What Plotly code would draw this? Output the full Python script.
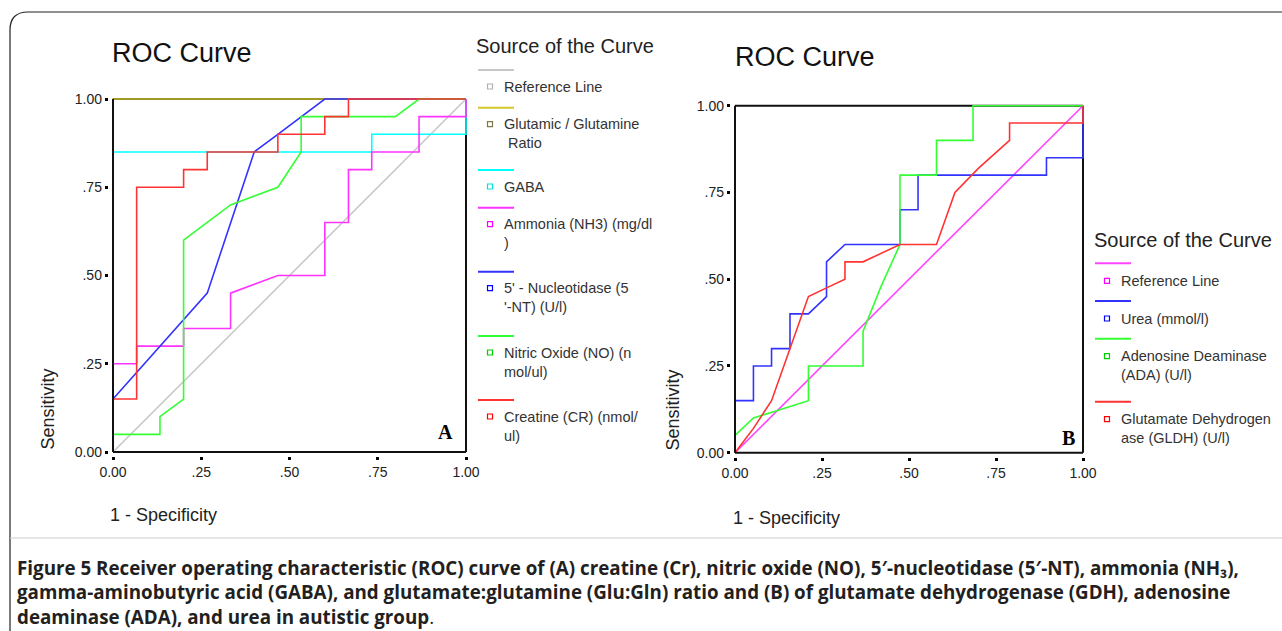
import plotly.graph_objects as go

W, H = 1282, 631

# ---------------- data: panel A ----------------
ref_fpr = [0, 1]
ref_tpr = [0, 1]
glu_fpr = [0, 0, 1]
glu_tpr = [0, 1, 1]
gaba_fpr = [0, 0, 0.733, 0.733, 1, 1]
gaba_tpr = [0, 0.85, 0.85, 0.90, 0.90, 1]
nh3_fpr = [0, 0, 0.067, 0.067, 0.20, 0.20, 0.333, 0.333, 0.467, 0.60, 0.60, 0.667, 0.667, 0.733, 0.733, 0.867, 0.867, 1, 1]
nh3_tpr = [0, 0.25, 0.25, 0.30, 0.30, 0.35, 0.35, 0.45, 0.50, 0.50, 0.65, 0.65, 0.80, 0.80, 0.85, 0.85, 0.95, 0.95, 1]
nt_fpr = [0, 0, 0.267, 0.40, 0.467, 0.60, 1]
nt_tpr = [0, 0.15, 0.45, 0.85, 0.90, 1, 1]
no_fpr = [0, 0, 0.133, 0.133, 0.20, 0.20, 0.333, 0.467, 0.533, 0.533, 0.80, 0.867, 1]
no_tpr = [0, 0.05, 0.05, 0.10, 0.15, 0.60, 0.70, 0.75, 0.85, 0.95, 0.95, 1, 1]
cr_fpr = [0, 0, 0.067, 0.067, 0.20, 0.20, 0.267, 0.267, 0.467, 0.467, 0.60, 0.60, 0.667, 0.667, 1]
cr_tpr = [0, 0.15, 0.15, 0.75, 0.75, 0.80, 0.80, 0.85, 0.85, 0.90, 0.90, 0.95, 0.95, 1, 1]

# ---------------- data: panel B ----------------
refb_fpr = [0, 1]
refb_tpr = [0, 1]
urea_fpr = [0, 0, 0.053, 0.053, 0.105, 0.105, 0.158, 0.158, 0.211, 0.263, 0.263, 0.316, 0.474, 0.474, 0.526, 0.526, 0.895, 0.895, 1, 1]
urea_tpr = [0, 0.15, 0.15, 0.25, 0.25, 0.30, 0.30, 0.40, 0.40, 0.45, 0.55, 0.60, 0.60, 0.70, 0.70, 0.80, 0.80, 0.85, 0.85, 1]
ada_fpr = [0, 0, 0.053, 0.211, 0.211, 0.368, 0.368, 0.42, 0.474, 0.474, 0.579, 0.579, 0.684, 0.684, 1]
ada_tpr = [0, 0.05, 0.10, 0.15, 0.25, 0.25, 0.35, 0.48, 0.60, 0.80, 0.80, 0.90, 0.90, 1, 1]
gldh_fpr = [0, 0.053, 0.105, 0.158, 0.211, 0.263, 0.316, 0.316, 0.368, 0.474, 0.579, 0.632, 0.70, 0.789, 0.789, 1, 1]
gldh_tpr = [0, 0.07, 0.15, 0.30, 0.45, 0.475, 0.50, 0.55, 0.55, 0.60, 0.60, 0.75, 0.82, 0.90, 0.95, 0.95, 1]

tick_vals = [0, 0.25, 0.5, 0.75, 1]
tick_text = ["0.00", ".25", ".50", ".75", "1.00"]

legend_a = ["Reference Line", "Glutamic / Glutamine<br> Ratio", "GABA", "Ammonia (NH3) (mg/dl<br>)",
            "5' - Nucleotidase (5<br>'-NT) (U/l)", "Nitric Oxide (NO) (n<br>mol/ul)", "Creatine (CR) (nmol/<br>ul)"]
legend_b = ["Reference Line", "Urea (mmol/l)", "Adenosine Deaminase<br>(ADA) (U/l)", "Glutamate Dehydrogen<br>ase (GLDH) (U/l)"]

caption = ("<b>Figure 5 Receiver operating characteristic (ROC) curve of (A) creatine (Cr), nitric oxide (NO), "
           "5\u2032-nucleotidase (5\u2032-NT), ammonia (NH\u2083),<br>gamma-aminobutyric acid (GABA), and "
           "glutamate:glutamine (Glu:Gln) ratio and (B) of glutamate dehydrogenase (GDH), adenosine<br>"
           "deaminase (ADA), and urea in autistic group</b>.")

# ---------------- styles ----------------
col_a = ["#c8c8c8", "#d2c828", "#00ffff", "#ff33ff", "#3333ff", "#33ff33", "#ff3333"]
mk_a = ["#b0b0b0", "#807840", "#00e0e0", "#ff00ff", "#0000ff", "#00d000", "#ff0000"]
col_b = ["#ff44ff", "#3333ff", "#33ff33", "#ff3333"]
mk_b = ["#ff00ff", "#0000ff", "#00d000", "#ff0000"]
FONT = "Liberation Sans, Arial, sans-serif"
PAD = 0.012

fig = go.Figure()

series_a = [(ref_fpr, ref_tpr), (glu_fpr, glu_tpr), (gaba_fpr, gaba_tpr), (nh3_fpr, nh3_tpr),
            (nt_fpr, nt_tpr), (no_fpr, no_tpr), (cr_fpr, cr_tpr)]
series_b = [(refb_fpr, refb_tpr), (urea_fpr, urea_tpr), (ada_fpr, ada_tpr), (gldh_fpr, gldh_tpr)]


def px_dom(p0, p1, total, flip=False):
    span = p1 - p0
    a = p0 - PAD * span
    b = p1 + PAD * span
    if flip:
        return [(total - a) / total, (total - b) / total]
    return [a / total, b / total]


panels = [
    dict(x0=113, x1=466, y0=452, y1=99, xa="x", ya="y"),
    dict(x0=735, x1=1083, y0=452.7, y1=105.7, xa="x2", ya="y2"),
]

shapes = []
for p in panels:
    xr, yr = p["xa"], p["ya"]
    # top / right borders below the curves, left / bottom axes above them
    for (xa0, ya0, xa1, ya1, lay) in [(0, 1, 1, 1, "below"), (1, 0, 1, 1, "below"),
                                      (0, 0, 1, 0, "above"), (0, 0, 0, 1, "above")]:
        shapes.append(dict(type="line", xref=xr, yref=yr, x0=xa0, y0=ya0, x1=xa1, y1=ya1,
                           line=dict(color="#111111", width=2), layer=lay))

for (fx, ty), c in zip(series_a, col_a):
    fig.add_trace(go.Scatter(x=fx, y=ty, mode="lines", line=dict(color=c, width=1.6),
                             xaxis="x", yaxis="y", showlegend=False, hoverinfo="skip"))
for (fx, ty), c in zip(series_b, col_b):
    fig.add_trace(go.Scatter(x=fx, y=ty, mode="lines", line=dict(color=c, width=1.6),
                             xaxis="x2", yaxis="y2", showlegend=False, hoverinfo="skip"))

axis_common = dict(range=[-PAD, 1 + PAD], tickvals=tick_vals, ticktext=tick_text, showgrid=False,
                   zeroline=False, showline=False, ticks="outside", ticklen=3, tickwidth=3,
                   tickcolor="#000", tickfont=dict(family=FONT, size=14, color="#222"),
                   fixedrange=True, automargin=False)

p = panels[0]
q = panels[1]
fig.update_layout(
    xaxis=dict(domain=px_dom(p["x0"], p["x1"], W), anchor="y", **axis_common),
    yaxis=dict(domain=px_dom(p["y0"], p["y1"], H, flip=True), anchor="x", **axis_common),
    xaxis2=dict(domain=px_dom(q["x0"], q["x1"], W), anchor="y2", **axis_common),
    yaxis2=dict(domain=px_dom(q["y0"], q["y1"], H, flip=True), anchor="x2", **axis_common),
)

annotations = []


def pt(x, y):
    return dict(x=x / W, y=1 - y / H, xref="paper", yref="paper")


def text(x, y, s, size, color="#222", xanchor="left", yanchor="middle", family=FONT, angle=0, align="left"):
    d = pt(x, y)
    d.update(text=s, showarrow=False, xanchor=xanchor, yanchor=yanchor, textangle=angle, align=align,
             font=dict(family=family, size=size, color=color))
    annotations.append(d)


# titles
text(110, 53, "ROC Curve", 27, "#111")
text(733, 57, "ROC Curve", 27, "#111")
# axis titles
text(108, 515, "1 - Specificity", 18, "#222")
text(731, 518, "1 - Specificity", 18, "#222")
text(47, 452, "Sensitivity", 18, "#222", xanchor="center", yanchor="bottom", angle=-90)
text(672, 453, "Sensitivity", 18, "#222", xanchor="center", yanchor="bottom", angle=-90)
# panel letters
text(445, 432, "<b>A</b>", 20, "#000", xanchor="center", family="Liberation Serif, DejaVu Serif, serif")
text(1068, 438, "<b>B</b>", 20, "#000", xanchor="center", family="Liberation Serif, DejaVu Serif, serif")

# legend A
text(474, 46, "Source of the Curve", 20, "#222")
line_ys_a = [70, 107.7, 170, 207.7, 271.7, 336, 400]
for ly, lab, c, m in zip(line_ys_a, legend_a, col_a, mk_a):
    shapes.append(dict(type="line", xref="paper", yref="paper", x0=478 / W, x1=514 / W,
                       y0=1 - ly / H, y1=1 - ly / H, line=dict(color=c, width=2)))
    sy = ly + 16.5
    shapes.append(dict(type="rect", xref="paper", yref="paper", x0=487.5 / W, x1=492.5 / W,
                       y0=1 - (sy - 2.5) / H, y1=1 - (sy + 2.5) / H, line=dict(color=m, width=1.2)))
    d = pt(502, sy - 10)
    d.update(text=lab, showarrow=False, xanchor="left", yanchor="top", align="left",
             font=dict(family=FONT, size=14.5, color="#333"))
    annotations.append(d)

# legend B
text(1092, 240, "Source of the Curve", 20, "#222")
line_ys_b = [263.3, 301, 338.7, 401.7]
for ly, lab, c, m in zip(line_ys_b, legend_b, col_b, mk_b):
    shapes.append(dict(type="line", xref="paper", yref="paper", x0=1095 / W, x1=1131 / W,
                       y0=1 - ly / H, y1=1 - ly / H, line=dict(color=c, width=2)))
    sy = ly + 17.5
    shapes.append(dict(type="rect", xref="paper", yref="paper", x0=1104.5 / W, x1=1109.5 / W,
                       y0=1 - (sy - 2.5) / H, y1=1 - (sy + 2.5) / H, line=dict(color=m, width=1.2)))
    d = pt(1119, sy - 10)
    d.update(text=lab, showarrow=False, xanchor="left", yanchor="top", align="left",
             font=dict(family=FONT, size=14.5, color="#333"))
    annotations.append(d)

# caption
d = pt(15, 553)
d.update(text=caption, showarrow=False, xanchor="left", yanchor="top", align="left",
         font=dict(family="Open Sans, Noto Sans, sans-serif", size=18.8, color="#231f20"))
annotations.append(d)

# outer frame
shapes.append(dict(type="path", xref="paper", yref="paper",
                   path=f"M {10/W},{1-640/H} L {10/W},{1-30/H} Q {10/W},{1-12/H} {28/W},{1-12/H} L {1300/W},{1-12/H}",
                   line=dict(color="#222", width=1.2)))
shapes.append(dict(type="line", xref="paper", yref="paper", x0=10 / W, x1=1, y0=1 - 538 / H, y1=1 - 538 / H,
                   line=dict(color="#cccccc", width=1)))

fig.update_layout(width=W, height=H, margin=dict(l=0, r=0, t=0, b=0), paper_bgcolor="white",
                  plot_bgcolor="rgba(0,0,0,0)", shapes=shapes, annotations=annotations, showlegend=False)

fig.write_html("out.html", config={"displayModeBar": False})
